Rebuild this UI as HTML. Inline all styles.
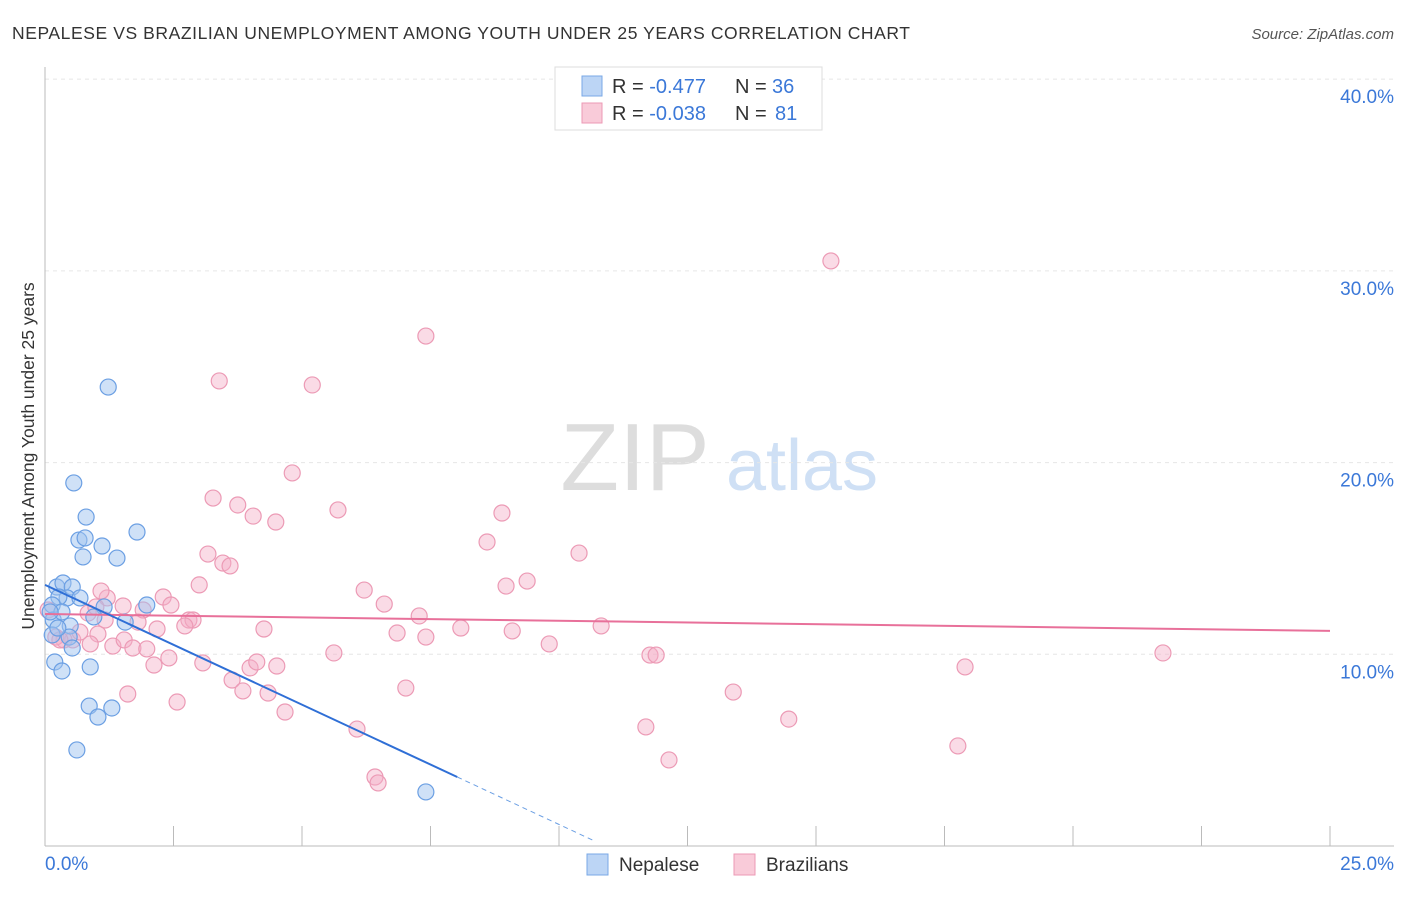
<!DOCTYPE html>
<html><head><meta charset="utf-8"><style>
body{margin:0;background:#fff;font-family:"Liberation Sans",sans-serif;}
svg text{font-family:"Liberation Sans",sans-serif;}
</style></head><body>
<svg id="chart" width="1406" height="892">
<text x="12" y="39" font-size="17.5" fill="#333" textLength="898">NEPALESE VS BRAZILIAN UNEMPLOYMENT AMONG YOUTH UNDER 25 YEARS CORRELATION CHART</text>
<text x="1394" y="39" font-size="15" fill="#555" font-style="italic" text-anchor="end">Source: ZipAtlas.com</text>
<text x="34" y="456" font-size="17.5" fill="#333" text-anchor="middle" transform="rotate(-90 34 456)">Unemployment Among Youth under 25 years</text>
<g>
<text x="635" y="490" font-size="96" fill="#ddd" font-family="Liberation Serif" text-anchor="middle">ZIP</text>
<text x="802" y="490" font-size="72" fill="#cfe0f5" text-anchor="middle">atlas</text>
</g>
<g id="grid"></g>
<g id="axes"></g>
<g id="pts"></g>
<g id="trends"></g>
<g>
<rect x="555" y="67" width="267" height="63" fill="#fff" stroke="#ddd"/>
<rect x="582" y="76" width="20" height="20" fill="#bcd5f5" stroke="#7aa8e6"/>
<text x="612" y="93" font-size="20" fill="#333">R = <tspan fill="#3b78d8">-0.477</tspan></text>
<text x="735" y="93" font-size="20" fill="#333">N = <tspan x="772" fill="#3b78d8">36</tspan></text>
<rect x="582" y="103" width="20" height="20" fill="#f9cbd9" stroke="#ec9ab5"/>
<text x="612" y="120" font-size="20" fill="#333">R = <tspan fill="#3b78d8">-0.038</tspan></text>
<text x="735" y="120" font-size="20" fill="#333">N = <tspan x="775" fill="#3b78d8">81</tspan></text>
</g>
<g>
<rect x="587" y="854" width="21" height="21" fill="#bcd5f5" stroke="#7aa8e6"/>
<text x="619" y="871" font-size="19" fill="#333">Nepalese</text>
<rect x="734" y="854" width="21" height="21" fill="#f9cbd9" stroke="#ec9ab5"/>
<text x="766" y="871" font-size="19" fill="#333">Brazilians</text>
</g>
</svg>
<script>
const yTicks=[10,20,30,40];
const yTickLabels=["10.0%","20.0%","30.0%","40.0%"];
const xTickLabels=["0.0%","25.0%"];
const nepX=[1.23,0.56,0.80,1.79,0.66,0.78,1.11,0.74,1.40,0.23,0.35,0.53,0.43,0.68,0.27,0.14,1.98,1.15,0.95,1.56,0.16,0.33,0.49,0.14,0.47,0.53,0.19,0.33,0.88,0.86,1.30,1.03,0.62,7.41,0.10,0.25];
const nepY=[23.94,18.94,17.16,16.38,15.96,16.07,15.65,15.08,15.02,13.51,13.72,13.51,12.94,12.94,12.99,12.57,12.57,12.47,11.95,11.68,11.79,12.21,11.48,11.01,10.90,10.33,9.60,9.13,9.34,7.30,7.20,6.73,5.01,2.82,12.21,11.37];
const braX=[15.29,7.41,3.39,5.20,4.81,3.27,3.75,5.70,4.05,4.49,8.89,8.60,3.17,10.39,3.46,3.60,9.38,8.97,3.00,6.21,2.30,1.21,1.09,1.52,2.45,1.91,6.60,2.80,2.88,7.28,2.72,1.81,0.84,0.99,8.09,4.26,6.85,9.09,7.41,10.82,1.03,0.54,0.68,0.37,0.21,0.88,1.32,1.54,1.71,1.98,2.18,9.81,5.62,11.77,11.89,21.75,17.90,2.41,2.12,3.07,3.99,4.12,4.51,3.64,3.85,4.34,7.02,13.39,1.61,2.57,4.67,14.47,6.07,11.69,17.76,12.14,6.42,6.48,0.29,1.17,0.06];
const braY=[30.52,26.60,24.26,24.05,19.46,18.15,17.79,17.53,17.21,16.90,17.37,15.86,15.23,15.28,14.76,14.61,13.82,13.56,13.62,13.35,12.99,12.94,13.30,12.52,12.57,12.31,12.62,11.79,11.79,12.00,11.48,11.68,12.15,12.47,11.37,11.32,11.11,11.22,10.90,11.48,11.06,10.75,11.16,10.75,10.90,10.54,10.43,10.75,10.33,10.28,11.32,10.54,10.07,9.96,9.96,10.07,9.34,9.81,9.44,9.55,9.29,9.60,9.39,8.66,8.09,7.98,8.24,8.03,7.93,7.51,6.99,6.62,6.10,6.21,5.22,4.49,3.60,3.29,10.75,11.79,12.31];
const nepTrend=[[0,13.62],[8.02,3.60]];
const nepTrendExt=[[8.02,3.60],[10.66,0.3]];
const braTrend=[[0,12.10],[25,11.22]];
const X=v=>45+v*51.4, Y=v=>846-v*19.17;
const NS="http://www.w3.org/2000/svg";
function mk(parent,tag,attrs){const e=document.createElementNS(NS,tag);for(const k in attrs)e.setAttribute(k,attrs[k]);document.getElementById(parent).appendChild(e);return e;}
yTicks.forEach((t,i)=>{
 const l=mk('grid','line',{x1:45,x2:1394,y1:Y(t),y2:Y(t),stroke:'#e6e6e6','stroke-dasharray':'4,4'});
 
 
 const tx=mk('grid','text',{x:1394,y:Y(t)+24,'font-size':19,fill:'#3b78d8','text-anchor':'end'});
 tx.textContent=yTickLabels[i];
 
 
});
const topLine=mk('axes','line',{x1:45,x2:1394,y1:79,y2:79,stroke:'#ececec','stroke-dasharray':'4,4'});


const ya=mk('axes','line',{x1:45,x2:45,y1:67,y2:846,stroke:'#bbb'});


const xa=mk('axes','line',{x1:45,x2:1394,y1:846,y2:846,stroke:'#bbb'});


for(let i=1;i<=10;i++){const t=mk('axes','line',{x1:X(i*2.5),x2:X(i*2.5),y1:826,y2:846,stroke:'#bbb'});
 
 }
[[0,45,'start'],[25,1394,'end']].forEach((d,i)=>{const t=mk('axes','text',{x:d[1],y:870,'font-size':19,fill:'#3b78d8','text-anchor':d[2]});t.textContent=xTickLabels[i];
 
 });
braX.forEach((v,i)=>{const c=mk('pts','circle',{cx:X(v),cy:Y(braY[i]),r:8,fill:'rgba(245,176,200,0.45)',stroke:'#ec9ab5','stroke-width':1.2});
 
 });
nepX.forEach((v,i)=>{const c=mk('pts','circle',{cx:X(v),cy:Y(nepY[i]),r:8,fill:'rgba(160,195,240,0.5)',stroke:'#6b9fe3','stroke-width':1.2});
 
 });
const l1=mk('trends','line',{x1:X(braTrend[0][0]),y1:Y(braTrend[0][1]),x2:X(braTrend[1][0]),y2:Y(braTrend[1][1]),stroke:'#e8709a','stroke-width':2});


const l2=mk('trends','line',{x1:X(nepTrend[0][0]),y1:Y(nepTrend[0][1]),x2:X(nepTrend[1][0]),y2:Y(nepTrend[1][1]),stroke:'#2f6fd6','stroke-width':2});


const l3=mk('trends','line',{x1:X(nepTrendExt[0][0]),y1:Y(nepTrendExt[0][1]),x2:X(nepTrendExt[1][0]),y2:Y(nepTrendExt[1][1]),stroke:'#6b9fe3','stroke-width':1,'stroke-dasharray':'5,4'});


</script>
</body></html>
